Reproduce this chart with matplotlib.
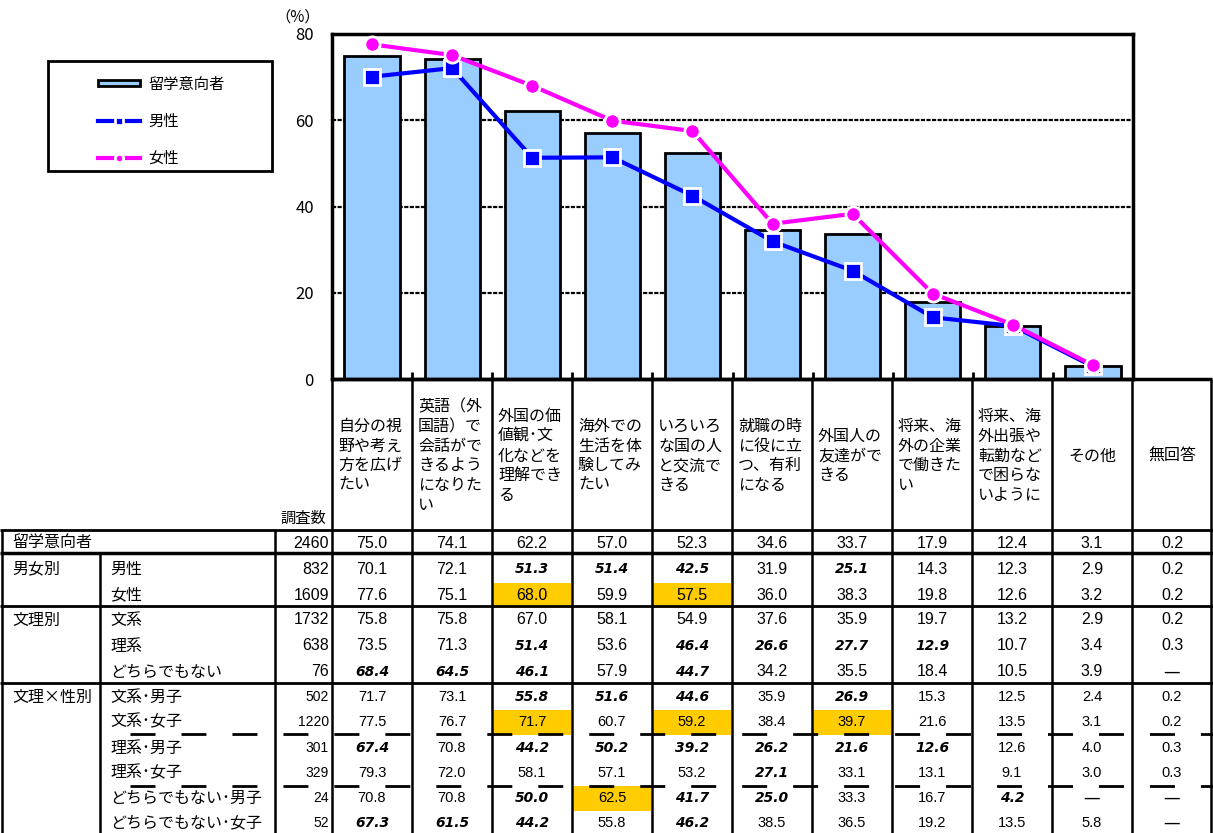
import matplotlib
matplotlib.use("Agg")
import matplotlib.pyplot as plt
from matplotlib.patches import Rectangle

plt.rcParams['font.family'] = ['Noto Sans CJK JP', 'DejaVu Sans']
plt.rcParams['lines.scale_dashes'] = False

# --- data ---
categories = ['自分の視\n野や考え\n方を広げ\nたい', '英語（外\n国語）で\n会話がで\nきるよう\nになりた\nい',
              '外国の価\n値観･文\n化などを\n理解でき\nる', '海外での\n生活を体\n験してみ\nたい',
              'いろいろ\nな国の人\nと交流で\nきる', '就職の時\nに役に立\nつ、有利\nになる',
              '外国人の\n友達がで\nきる', '将来、海\n外の企業\nで働きた\nい',
              '将来、海\n外出張や\n転勤など\nで困らな\nいように', 'その他', '無回答']
ryugaku = [75.0, 74.1, 62.2, 57.0, 52.3, 34.6, 33.7, 17.9, 12.4, 3.1, 0.2]
male = [70.1, 72.1, 51.3, 51.4, 42.5, 31.9, 25.1, 14.3, 12.3, 2.9, 0.2]
female = [77.6, 75.1, 68.0, 59.9, 57.5, 36.0, 38.3, 19.8, 12.6, 3.2, 0.2]

row_group = ['留学意向者', '男女別', '', '文理別', '', '', '文理×性別', '', '', '', '', '']
row_label = ['', '男性', '女性', '文系', '理系', 'どちらでもない', '文系･男子', '文系･女子',
             '理系･男子', '理系･女子', 'どちらでもない･男子', 'どちらでもない･女子']
n_resp = [2460, 832, 1609, 1732, 638, 76, 502, 1220, 301, 329, 24, 52]
table_vals = [
    ryugaku,
    male,
    female,
    [75.8, 75.8, 67.0, 58.1, 54.9, 37.6, 35.9, 19.7, 13.2, 2.9, 0.2],
    [73.5, 71.3, 51.4, 53.6, 46.4, 26.6, 27.7, 12.9, 10.7, 3.4, 0.3],
    [68.4, 64.5, 46.1, 57.9, 44.7, 34.2, 35.5, 18.4, 10.5, 3.9, None],
    [71.7, 73.1, 55.8, 51.6, 44.6, 35.9, 26.9, 15.3, 12.5, 2.4, 0.2],
    [77.5, 76.7, 71.7, 60.7, 59.2, 38.4, 39.7, 21.6, 13.5, 3.1, 0.2],
    [67.4, 70.8, 44.2, 50.2, 39.2, 26.2, 21.6, 12.6, 12.6, 4.0, 0.3],
    [79.3, 72.0, 58.1, 57.1, 53.2, 27.1, 33.1, 13.1, 9.1, 3.0, 0.3],
    [70.8, 70.8, 50.0, 62.5, 41.7, 25.0, 33.3, 16.7, 4.2, None, None],
    [67.3, 61.5, 44.2, 55.8, 46.2, 38.5, 36.5, 19.2, 13.5, 5.8, None],
]
# cells shown in bold italic (significantly low) and highlighted (significantly high)
bold_cells = {(1, 2), (1, 3), (1, 4), (1, 6),
              (4, 2), (4, 4), (4, 5), (4, 6), (4, 7),
              (5, 0), (5, 1), (5, 2), (5, 4),
              (6, 2), (6, 3), (6, 4), (6, 6),
              (8, 0), (8, 2), (8, 3), (8, 4), (8, 5), (8, 6), (8, 7),
              (9, 5),
              (10, 2), (10, 4), (10, 5), (10, 8),
              (11, 0), (11, 1), (11, 2), (11, 4)}
hi_cells = {(2, 2), (2, 4), (7, 2), (7, 4), (7, 6), (10, 3)}

n_plot = 10  # bars/lines drawn for first 10 categories

W, H = 1213, 833
fig = plt.figure(figsize=(W / 100, H / 100), dpi=100)

# --- chart ---
x0, x1, y0, y1 = 332, 1133, 379, 34
ax = fig.add_axes([x0 / W, (H - y0) / H, (x1 - x0) / W, (y0 - y1) / H])
xs = list(range(n_plot))
ax.bar(xs, ryugaku[:n_plot], width=0.69, color='#99CCFF', edgecolor='black', linewidth=2, zorder=2)
ax.plot(xs, male[:n_plot], color='#0000FF', lw=3, marker='s', ms=12, mfc='#0000FF',
        mec='white', mew=2, zorder=4)
ax.plot(xs, female[:n_plot], color='#FF00FF', lw=3, marker='o', ms=11, mfc='#FF00FF',
        mec='white', mew=2, zorder=5)
ax.set_xlim(-0.5, n_plot - 0.5)
ax.set_ylim(0, 80)
ax.set_yticks([0, 20, 40, 60, 80])
ax.tick_params(axis='y', length=0, pad=13, labelsize=12)
ax.set_xticks([])
ax.set_xticks([i + 0.5 for i in range(n_plot - 1)], minor=True)
ax.tick_params(axis='x', which='minor', direction='in', length=5, width=2)
for v in [20, 40, 60]:
    ax.axhline(v, color='black', lw=1.6, ls=(0, (3, 1)), zorder=1)
for s in ax.spines.values():
    s.set_linewidth(2.5)

# --- overlay for table, legend and labels (pixel coords) ---
ov = fig.add_axes([0, 0, 1, 1])
ov.set_xlim(0, W)
ov.set_ylim(H, 0)
ov.axis('off')

ov.text(298, 17, '（%）', ha='center', va='center', fontsize=11)

# legend
ov.add_patch(Rectangle((48, 61), 224, 110, fill=False, lw=2, ec='black'))
ov.add_patch(Rectangle((98, 80), 42, 6, fc='#99CCFF', ec='black', lw=2))
ov.text(148, 84, '留学意向者', va='center', fontsize=11)
for yy, col, mk, lab in [(121, '#0000FF', 's', '男性'), (158, '#FF00FF', 'o', '女性')]:
    ov.plot([98, 140], [yy, yy], color=col, lw=3)
    ov.plot([119], [yy], marker=mk, ms=6, mfc=col, mec='white', mew=2)
    ov.text(148, yy, lab, va='center', fontsize=11)

# column geometry
cw = 80
col_left = [332 + i * cw for i in range(len(categories))]
right = col_left[-1] + cw

# header
for i, lab in enumerate(categories):
    if '\n' in lab:
        ov.text(col_left[i] + 6, 456, lab, ha='left', va='center', fontsize=11.5, linespacing=1.2)
    else:
        ov.text(col_left[i] + cw / 2, 456, lab, ha='center', va='center', fontsize=11.5)
ov.text(303, 518, '調査数', ha='center', va='center', fontsize=11)

row_y = [543, 569, 595, 620, 646, 672, 697, 722, 748, 773, 798, 823]

# highlighted cells
for (r, c) in hi_cells:
    ov.add_patch(Rectangle((col_left[c] + 1, row_y[r] - 12.5), cw - 2, 25, fc='#FFCC00', ec='none', zorder=0))

for r in range(len(row_y)):
    y = row_y[r]
    small = r >= 6
    if row_group[r]:
        ov.text(12, y, row_group[r], va='center', fontsize=11.5)
    if row_label[r]:
        ov.text(110, y, row_label[r], va='center', fontsize=11.5)
    ov.text(329, y, str(n_resp[r]), ha='right', va='center', fontsize=10 if small else 11.5,
            family='Liberation Sans')
    for c, v in enumerate(table_vals[r]):
        cx = col_left[c] + cw / 2
        if v is None:
            ov.text(cx, y, '—', ha='center', va='center', fontsize=12, family='DejaVu Sans')
        elif (r, c) in bold_cells:
            ov.text(cx, y, f'{v:.1f}', ha='center', va='center', fontsize=10,
                    family='DejaVu Sans', weight='bold', style='italic')
        else:
            ov.text(cx, y, f'{v:.1f}', ha='center', va='center', fontsize=10.5 if small else 11.5,
                    family='Liberation Sans')

# table lines
lk = dict(color='black', solid_capstyle='butt')
ov.plot([332, right], [379, 379], lw=2.5, **lk)
for xv in col_left + [right - 1]:
    ov.plot([xv, xv], [379, H], lw=1.8, **lk)
ov.plot([275, 275], [530, H], lw=1.8, **lk)
ov.plot([100, 100], [553, H], lw=1.8, **lk)
ov.plot([2, 2], [530, H], lw=1.8, **lk)
ov.plot([0, W], [530, 530], lw=2, **lk)
ov.plot([0, W], [553, 553], lw=2.5, **lk)
ov.plot([0, W], [606, 606], lw=2, **lk)
ov.plot([0, W], [683, 683], lw=2, **lk)
for yy in [734, 786]:
    ov.plot([130, W], [yy, yy], color='black', lw=2, dashes=(18, 18.7))

fig.savefig('out.png', dpi=100)
